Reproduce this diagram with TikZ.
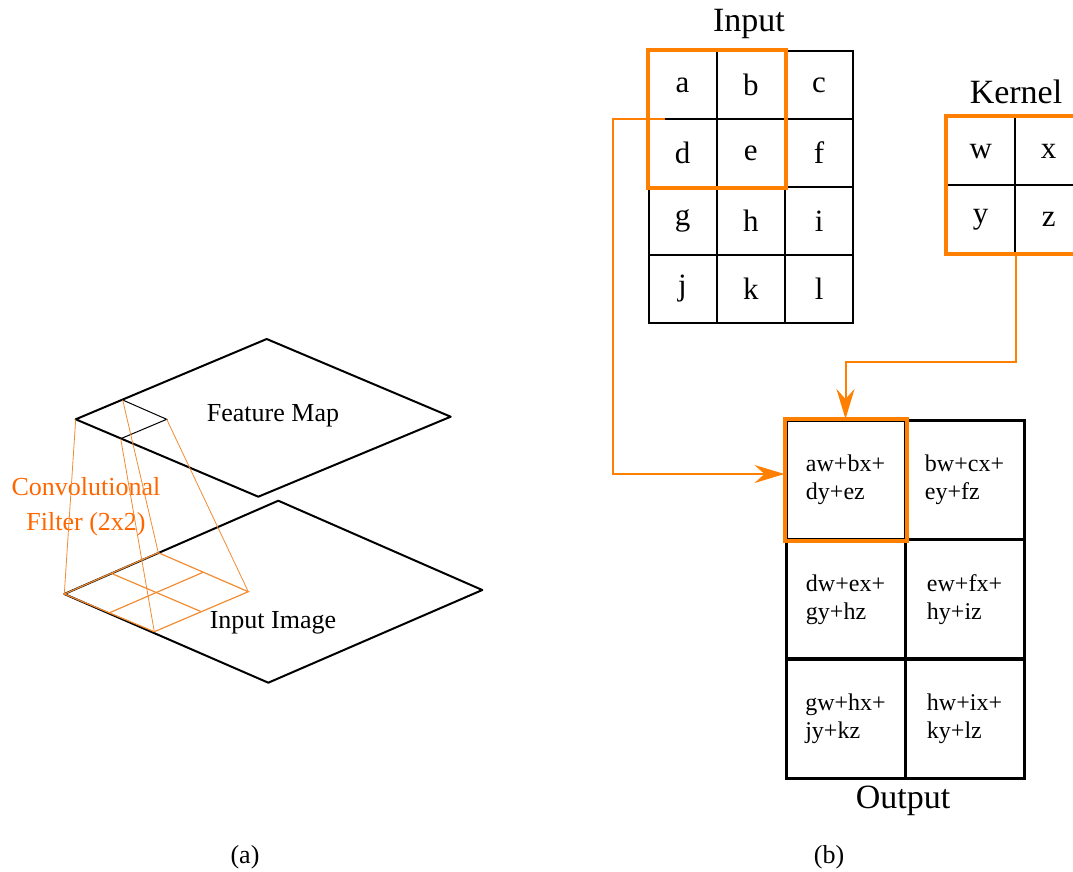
\documentclass[tikz,border=0pt]{standalone}
\usepackage{fontspec}
\setmainfont{Liberation Serif}
\usetikzlibrary{arrows.meta,positioning,calc}
\definecolor{orangefiltre}{RGB}{255,128,0}
\definecolor{orangetexte}{RGB}{255,102,0}
\definecolor{orangetrait}{RGB}{242,140,50}

\begin{document}
\begin{tikzpicture}[x=1pt,y=-1pt,
   cellule/.style={draw,line width=2pt,minimum size=68pt,inner sep=0pt,font=\fontsize{31}{31}\selectfont},
   sortie/.style={draw,line width=3pt,minimum size=119pt,inner sep=0pt,align=left,font=\fontsize{24}{28}\selectfont},
   titre/.style={font=\fontsize{34}{34}\selectfont},
   legende/.style={font=\fontsize{26}{26}\selectfont},
   couche/.style={draw,line width=2pt,line join=round},
   cadre/.style={draw=orangefiltre,line width=4pt},
   lien/.style={draw=orangefiltre,line width=2pt,-{Stealth[length=30pt,width=18pt,inset=10pt]}},
   fil/.style={draw=orangetrait,line width=1.2pt}]

  \useasboundingbox (0,0) rectangle (1073,871);

  % (a) feature map and input image
  \coordinate (fm-l) at (75.7,419.3);
  \coordinate (fm-t) at (266.7,339);
  \coordinate (fm-r) at (450.7,416.7);
  \coordinate (fm-b) at (258.3,496.7);
  \coordinate (ii-l) at (64.3,594);
  \coordinate (ii-t) at (278.3,500.7);
  \coordinate (ii-r) at (482.3,590);
  \coordinate (ii-b) at (268.3,682.7);

  \coordinate (sq-t) at (122.7,400);
  \coordinate (sq-r) at (166.7,419.3);
  \coordinate (sq-b) at (120.7,438.7);
  \coordinate (f-t) at (158.3,552.7);
  \coordinate (f-r) at (248.3,591.7);
  \coordinate (f-b) at (154.3,631.7);

  \node[legende,text=orangetexte,align=center] (conv) at (86,507) {Convolutional\\[9pt]Filter (2x2)};
  \node[legende] (fm-txt) at (273,416) {Feature Map};
  \node[legende] (ii-txt) at (273,623) {Input Image};

  \draw[couche] (fm-l) -- (fm-t) -- (fm-r) -- (fm-b) -- cycle;
  \draw[couche] (ii-l) -- (ii-t) -- (ii-r) -- (ii-b) -- cycle;
  \draw[line width=1pt] (sq-t) -- (sq-r) -- (sq-b);

  \draw[fil] (ii-l) -- (f-t) -- (f-r) -- (f-b) -- cycle;
  \draw[fil] ($(ii-l)!0.5!(f-t)$) -- ($(f-b)!0.5!(f-r)$);
  \draw[fil] ($(ii-l)!0.5!(f-b)$) -- ($(f-t)!0.5!(f-r)$);
  \foreach \haut/\bas in {fm-l/ii-l,sq-t/f-t,sq-r/f-r,sq-b/f-b}
    \draw[draw=orangetrait,line width=0.8pt] (\haut) -- (\bas);

  % (b) input, kernel, output
  \foreach \lettre [count=\n from 0] in {a,b,c,d,e,f,g,h,i,j,k,l} {
    \pgfmathtruncatemacro\col{mod(\n,3)}
    \pgfmathtruncatemacro\row{div(\n,3)}
    \node[cellule] (in-\lettre) at (682.5+68.3*\col, 85+68*\row) {\lettre};
  }
  \draw[cadre] (in-a.north west) rectangle (in-e.south east);
  \node[titre] (in-titre) at (749,24) {Input};

  \foreach \lettre/\col/\row in {w/0/0,x/1/0,y/0/1,z/1/1}
    \node[cellule] (k-\lettre) at (980.7+68*\col, 151.3+68*\row) {\lettre};
  \draw[cadre] (k-w.north west) rectangle (k-z.south east);
  \node[titre] (k-titre) at (1016,92) {Kernel};

  \foreach \texte [count=\n from 0] in {aw+bx+\\dy+ez, bw+cx+\\ey+fz, dw+ex+\\gy+hz,
      ew+fx+\\hy+iz, gw+hx+\\jy+kz, hw+ix+\\ky+lz} {
    \pgfmathtruncatemacro\col{mod(\n,2)}
    \pgfmathtruncatemacro\row{div(\n,2)}
    \node[sortie] (out-\n) at (845.5+119*\col, 480+119.3*\row) {\texte};
  }
  \draw[cadre] (out-0.north west) rectangle (out-0.south east);
  \node[titre] (out-titre) at (903,801) {Output};

  \coordinate (depart) at (665,119);
  \coordinate (coude) at (612.7,119);
  \draw[lien] (depart) -- (coude) |- ([yshift=6pt]out-0.west);
  \draw[lien] (k-y.south east) -- ++(0,108) -| (out-0.north);

  \node[legende] (a) at (245,857) {(a)};
  \node[legende] (b) at (829,857) {(b)};
\end{tikzpicture}
\end{document}
